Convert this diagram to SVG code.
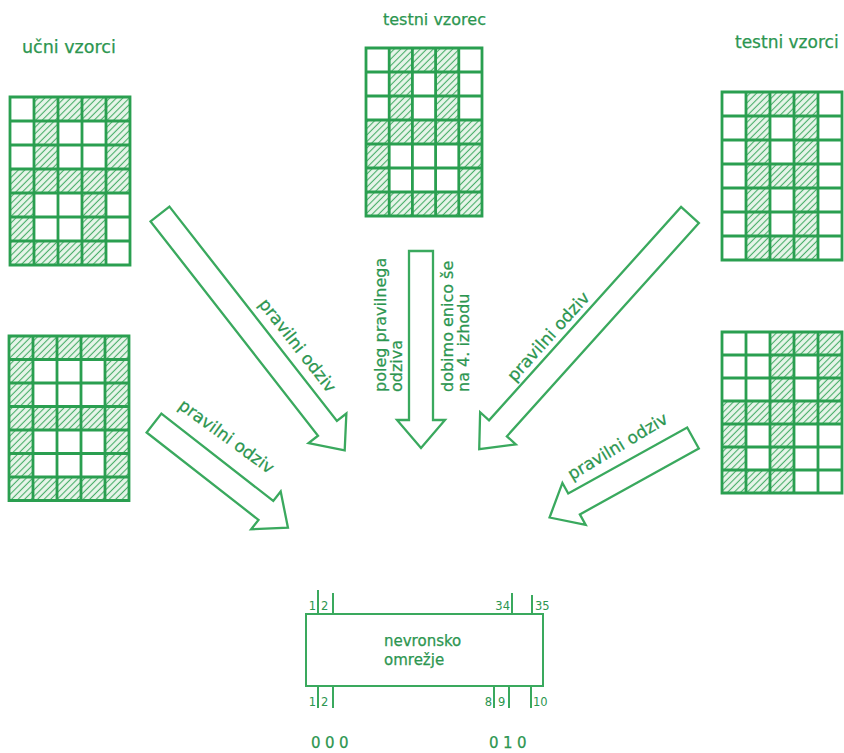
<svg xmlns="http://www.w3.org/2000/svg" width="844" height="753" viewBox="0 0 844 753">
<defs>
<pattern id="hatch" patternUnits="userSpaceOnUse" width="10" height="4.6" patternTransform="rotate(-45)">
<rect width="10" height="4.6" fill="#e8f5ea"/>
<line x1="0" y1="2.3" x2="10" y2="2.3" stroke="#47ad68" stroke-width="1.1"/>
</pattern>
<style>
.h{fill:url(#hatch);stroke:none}
.g{fill:none;stroke:#2a9f50;stroke-width:2.8}
.ar{fill:#fff;stroke:#3aa95e;stroke-width:2.3;stroke-linejoin:miter}
.t{font-family:"DejaVu Sans",sans-serif;font-size:16px;fill:#2c9650;stroke:#2c9650;stroke-width:0.25}
.s{font-family:"DejaVu Sans",sans-serif;font-size:11.5px;fill:#2c9650}
.box{fill:#fff;stroke:#3aa95e;stroke-width:2}
.tick{stroke:#3aa95e;stroke-width:2}
</style>
</defs>
<rect width="844" height="753" fill="#fff"/>

<text class="t" x="22" y="53" style="font-size:17.5px">učni vzorci</text>
<text class="t" x="383" y="25">testni vzorec</text>
<text class="t" x="735" y="48" style="font-size:17px">testni vzorci</text>

<g id="grid1" transform="translate(10,97)">
<rect class="h" x="24" y="0" width="96" height="24"/>
<rect class="h" x="24" y="24" width="24" height="48"/>
<rect class="h" x="96" y="24" width="24" height="48"/>
<rect class="h" x="0" y="72" width="120" height="24"/>
<rect class="h" x="0" y="96" width="24" height="72"/>
<rect class="h" x="72" y="96" width="24" height="72"/>
<rect class="h" x="24" y="144" width="48" height="24"/>
<path class="g" d="M0,0H120V168H0Z M24,0V168 M48,0V168 M72,0V168 M96,0V168 M0,24H120 M0,48H120 M0,72H120 M0,96H120 M0,120H120 M0,144H120"/>
</g>

<g id="grid2" transform="translate(9,336)">
<rect class="h" x="0" y="0" width="24" height="164.5"/>
<rect class="h" x="96" y="0" width="24" height="164.5"/>
<rect class="h" x="24" y="0" width="72" height="23.5"/>
<rect class="h" x="24" y="70.5" width="72" height="23.5"/>
<rect class="h" x="24" y="141" width="72" height="23.5"/>
<path class="g" d="M0,0H120V164.5H0Z M24,0V164.5 M48,0V164.5 M72,0V164.5 M96,0V164.5 M0,23.5H120 M0,47H120 M0,70.5H120 M0,94H120 M0,117.5H120 M0,141H120"/>
</g>

<g id="grid3" transform="translate(366,48)">
<rect class="h" x="23.2" y="0" width="69.6" height="24"/>
<rect class="h" x="23.2" y="24" width="23.2" height="48"/>
<rect class="h" x="69.6" y="24" width="23.2" height="48"/>
<rect class="h" x="0" y="72" width="116" height="24"/>
<rect class="h" x="0" y="96" width="23.2" height="48"/>
<rect class="h" x="92.8" y="96" width="23.2" height="48"/>
<rect class="h" x="0" y="144" width="116" height="24"/>
<path class="g" d="M0,0H116V168H0Z M23.2,0V168 M46.4,0V168 M69.6,0V168 M92.8,0V168 M0,24H116 M0,48H116 M0,72H116 M0,96H116 M0,120H116 M0,144H116"/>
</g>

<g id="grid4" transform="translate(722,92)">
<rect class="h" x="24" y="0" width="24" height="168"/>
<rect class="h" x="72" y="0" width="24" height="168"/>
<rect class="h" x="48" y="0" width="24" height="24"/>
<rect class="h" x="48" y="72" width="24" height="24"/>
<rect class="h" x="48" y="144" width="24" height="24"/>
<path class="g" d="M0,0H120V168H0Z M24,0V168 M48,0V168 M72,0V168 M96,0V168 M0,24H120 M0,48H120 M0,72H120 M0,96H120 M0,120H120 M0,144H120"/>
</g>

<g id="grid5" transform="translate(722,332)">
<rect class="h" x="48" y="0" width="24" height="161"/>
<rect class="h" x="48" y="0" width="72" height="23"/>
<rect class="h" x="96" y="23" width="24" height="46"/>
<rect class="h" x="0" y="69" width="120" height="23"/>
<rect class="h" x="0" y="92" width="24" height="69"/>
<rect class="h" x="0" y="138" width="72" height="23"/>
<path class="g" d="M0,0H120V161H0Z M24,0V161 M48,0V161 M72,0V161 M96,0V161 M0,23H120 M0,46H120 M0,69H120 M0,92H120 M0,115H120 M0,138H120"/>
</g>

<g id="connectors">
<g id="arrowA">
<polygon class="ar" transform="translate(160,214) rotate(52)" points="0,-12 272,-12 272,-24 300,0 272,24 272,12 0,12"/>
<text class="t" text-anchor="middle" transform="translate(297,346) rotate(52)" y="5" style="font-size:17px">pravilni odziv</text>
</g>
<g id="arrowB">
<polygon class="ar" transform="translate(154,423) rotate(38)" points="0,-12 142,-12 142,-24 170,0 142,24 142,12 0,12"/>
<text class="t" text-anchor="middle" transform="translate(226,437) rotate(36)" y="5" style="font-size:17px">pravilni odziv</text>
</g>
<g id="arrowC">
<polygon class="ar" transform="translate(421,251) rotate(90)" points="0,-12 169,-12 169,-24 197,0 169,24 169,12 0,12"/>
<text class="t" transform="translate(386,392) rotate(-90)">poleg pravilnega</text>
<text class="t" transform="translate(402,392) rotate(-90)">odziva</text>
<text class="t" transform="translate(453,392) rotate(-90)">dobimo enico še</text>
<text class="t" transform="translate(469,392) rotate(-90)">na 4. izhodu</text>
</g>
<g id="arrowD">
<polygon class="ar" transform="translate(690,215) rotate(132)" points="0,-12 287,-12 287,-24 315,0 287,24 287,12 0,12"/>
<text class="t" text-anchor="middle" transform="translate(549,337) rotate(-48)" y="5" style="font-size:17px">pravilni odziv</text>
</g>
<g id="arrowE">
<polygon class="ar" transform="translate(693,438) rotate(151)" points="0,-12 136,-12 136,-24 164,0 136,24 136,12 0,12"/>
<text class="t" text-anchor="middle" transform="translate(618,447) rotate(-31)" y="5" style="font-size:17px">pravilni odziv</text>
</g>
</g>

<g id="network">
<rect class="box" x="306" y="614" width="237" height="72"/>
<text class="t" x="384" y="646" style="font-size:15px">nevronsko</text>
<text class="t" x="384" y="665" style="font-size:15px">omrežje</text>
<path class="tick" d="M318,590V614 M333,593V614 M512,593V614 M532,595V614 M318,686V708 M333,686V708 M494,686V708 M509,686V708 M531,686V708"/>
<text class="s" x="316" y="610" text-anchor="end">1</text>
<text class="s" x="321" y="610">2</text>
<text class="s" x="510" y="610" text-anchor="end">34</text>
<text class="s" x="535" y="610">35</text>
<text class="s" x="316" y="706" text-anchor="end">1</text>
<text class="s" x="321" y="706">2</text>
<text class="s" x="492" y="706" text-anchor="end">8</text>
<text class="s" x="498" y="706">9</text>
<text class="s" x="533" y="706">10</text>
<text class="t" x="311" y="748" style="font-size:15px;letter-spacing:4.5px">000</text>
<text class="t" x="489" y="748" style="font-size:15px;letter-spacing:4.5px">010</text>
</g>
</svg>
